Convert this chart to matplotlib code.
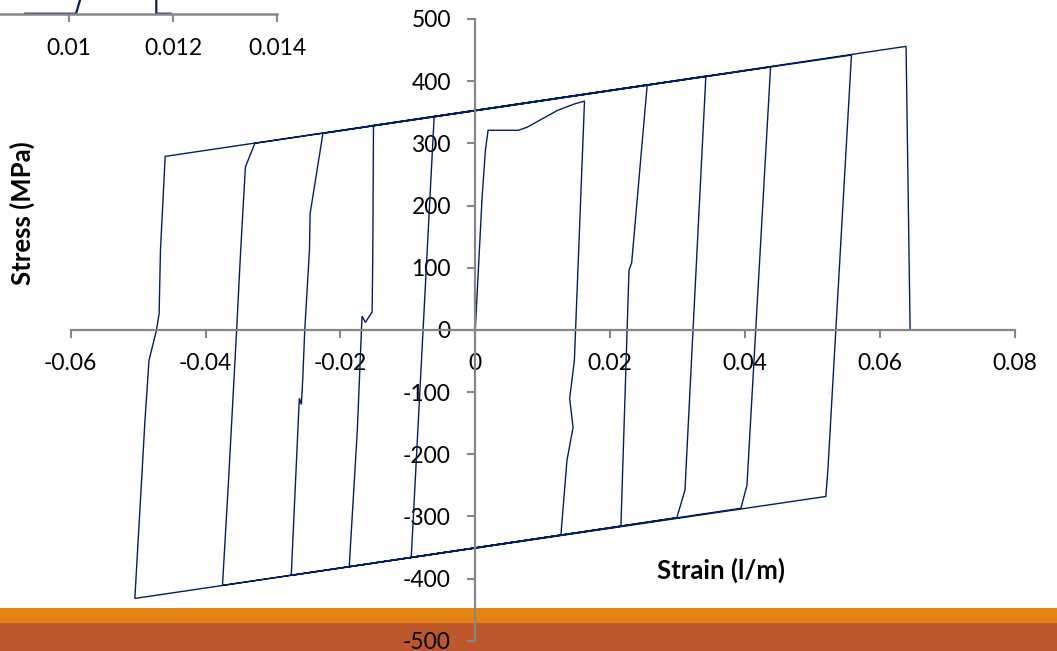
import matplotlib
matplotlib.use("Agg")
import matplotlib.pyplot as plt
from matplotlib.patches import Rectangle

plt.rcParams["font.family"] = ["Lato", "DejaVu Sans"]

# ---- cyclic stress-strain path (strain in l/m, stress in MPa) ----
strain = [
    0.0, 0.0010, 0.0015, 0.0019, 0.0064, 0.0077, 0.0122, 0.0146, 0.0162,
    0.0147, 0.0140, 0.0145, 0.0136, 0.0127,
    -0.0095, -0.0061,
    0.0255, 0.0232, 0.0228, 0.0216,
    -0.0187, -0.0175, -0.0168, -0.0163, -0.0153, -0.0152, -0.0151,
    0.0342, 0.0311, 0.0299,
    -0.0273, -0.0261, -0.0258, -0.0256, -0.0253, -0.0246, -0.0245, -0.0226,
    0.0438, 0.0403, 0.0394,
    -0.0375, -0.0366, -0.0354, -0.0348, -0.0341, -0.0327,
    0.0558, 0.0523, 0.0520,
    -0.0505, -0.0495, -0.0490, -0.0484, -0.0473, -0.0469, -0.0467, -0.0460,
    0.0639, 0.0645,
]
stress = [
    0, 211, 289, 321, 321, 326, 353, 363, 368,
    -49, -110, -157, -210, -330,
    -366, 343,
    394, 108, 96, -316,
    -381, -162, 22, 12, 29, 128, 329,
    408, -258, -302,
    -395, -110, -120, -81, -1, 128, 187, 316,
    423, -250, -287,
    -411, -242, 0, 128, 262, 300,
    442, -226, -268,
    -432, -242, -146, -49, -1, 26, 128, 279,
    456, 0,
]

# ---- partial detail view along the top edge ----
detail_strain = [0.009154, 0.010135, 0.010360, None, 0.011679, 0.011679, 0.011956]
detail_stress = [0, 0, 40, None, 60, 0, 0]

x_ticks = [-0.06, -0.04, -0.02, 0.0, 0.02, 0.04, 0.06, 0.08]
x_tick_labels = ["-0.06", "-0.04", "-0.02", "0", "0.02", "0.04", "0.06", "0.08"]
y_ticks = [-500, -400, -300, -200, -100, 0, 100, 200, 300, 400, 500]
y_tick_labels = ["-500", "-400", "-300", "-200", "-100", "0", "100", "200", "300", "400", "500"]
detail_ticks = [0.01, 0.012, 0.014]
detail_tick_labels = ["0.01", "0.012", "0.014"]

LINE = "#002060"
AXIS = "#868686"
W, H = 1057, 651

fig = plt.figure(figsize=(W / 100, H / 100), dpi=100)
fig.patch.set_facecolor("white")

# footer bands
fig.add_artist(Rectangle((0, (H - 623) / H), 1, 15 / H, transform=fig.transFigure,
                         facecolor="#E48312", edgecolor="none", zorder=-5))
fig.add_artist(Rectangle((0, 0), 1, (H - 623) / H, transform=fig.transFigure,
                         facecolor="#BD582C", edgecolor="none", zorder=-5))

# ---- main chart ----
ax = fig.add_axes([70.8 / W, (H - 640.7) / H, 943.8 / W, 621.7 / H])
ax.patch.set_visible(False)
ax.plot(strain, stress, color=LINE, lw=1.0, solid_joinstyle="miter")
ax.set_xlim(-0.06, 0.08)
ax.set_ylim(-500, 500)
for s in ("top", "right"):
    ax.spines[s].set_visible(False)
ax.spines["left"].set_position(("data", 0))
ax.spines["bottom"].set_position(("data", 0))
for s in ("left", "bottom"):
    ax.spines[s].set_color(AXIS)
    ax.spines[s].set_linewidth(1.6)
ax.set_xticks(x_ticks, x_tick_labels)
ax.set_yticks(y_ticks, y_tick_labels)
ax.tick_params(direction="out", length=5.5, width=1.5, color=AXIS,
               labelsize=16.5, labelcolor="black")
ax.tick_params(axis="x", pad=11)
ax.tick_params(axis="y", pad=12)

fig.text(22 / W, 1 - 213 / H, "Stress (MPa)", rotation=90, ha="center", va="center",
         fontsize=18.5, fontweight="bold")
fig.text(721 / W, 1 - 570 / H, "Strain (l/m)", ha="center", va="center",
         fontsize=18.5, fontweight="bold")

# ---- detail view (cut by the top edge) ----
ax2 = fig.add_axes([(69 - 104) / W, 1 - 13.7 / H, 312 / W, 100 / H])
ax2.patch.set_visible(False)
ax2.plot(detail_strain, detail_stress, color=LINE, lw=1.6)
ax2.set_xlim(0.008, 0.014)
ax2.set_ylim(0, 100)
for s in ("top", "right", "left"):
    ax2.spines[s].set_visible(False)
ax2.spines["bottom"].set_color(AXIS)
ax2.spines["bottom"].set_linewidth(1.8)
ax2.set_yticks([])
ax2.set_xticks(detail_ticks, detail_tick_labels)
ax2.tick_params(axis="x", direction="out", length=5.5, width=1.5, color=AXIS,
                labelsize=16.5, pad=12)

fig.savefig("out.png", dpi=100)
